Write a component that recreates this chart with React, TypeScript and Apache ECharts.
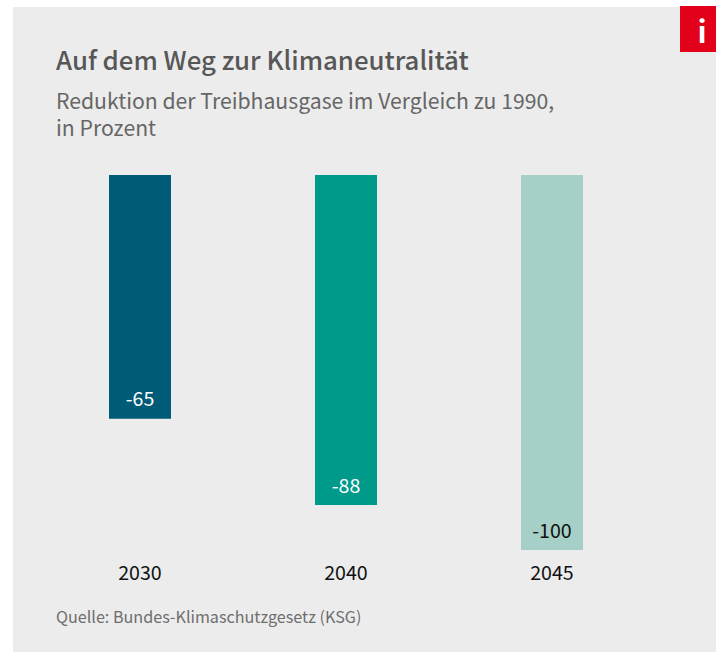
import React, { useEffect, useRef } from "react";
import * as echarts from "echarts";

const categories = ["2030", "2040", "2045"];
const values = [-65, -88, -100];
const barColors = ["#005b76", "#009a8a", "#a6d0c7"];
const labelColors = ["#ffffff", "#ffffff", "#111111"];
const FONT = '"Noto Sans CJK SC", "Noto Sans", sans-serif';

export default function App() {
  const ref = useRef<HTMLDivElement>(null);
  useEffect(() => {
    document.body.style.margin = "0";
    const chart = echarts.init(ref.current!, undefined, { renderer: "svg" });
    chart.setOption({
      animation: false,
      backgroundColor: "#ffffff",
      grid: { left: 37, right: 61, top: 175, bottom: 102 },
      xAxis: {
        type: "category",
        data: categories,
        position: "bottom",
        axisLine: { show: false, onZero: false },
        axisTick: { show: false },
        axisLabel: { color: "#111111", fontSize: 19.6, fontFamily: FONT, margin: 12 },
      },
      yAxis: { type: "value", min: -100, max: 0, interval: 20, show: false, splitLine: { show: false } },
      series: [
        {
          type: "bar",
          barWidth: 62,
          data: values.map((v, i) => ({
            value: v,
            itemStyle: { color: barColors[i] },
            label: { color: labelColors[i] },
          })),
          label: {
            show: true,
            position: "insideBottom",
            distance: 11,
            fontSize: 19.6,
            fontFamily: FONT,
            formatter: (p: any) => String(p.value),
          },
          z: 5,
        },
      ],
      graphic: [
        { type: "rect", z: -10, shape: { x: 13, y: 7, width: 703, height: 645 }, style: { fill: "#ebebeb" } },
        { type: "rect", z: -9, shape: { x: 41, y: 40, width: 607, height: 597 }, style: { fill: "#ececec" } },
        { type: "rect", z: 1, shape: { x: 680, y: 6, width: 36, height: 46 }, style: { fill: "#e2001a" } },
        { type: "text", z: 2, x: 702, y: 30, style: { text: "i", fill: "#ffffff", font: `700 30px ${FONT}`, align: "center", verticalAlign: "middle" } },
        { type: "text", z: 2, x: 56, y: 58, style: { text: "Auf dem Weg zur Klimaneutralität", fill: "#575757", font: `500 25.8px ${FONT}`, verticalAlign: "middle" } },
        { type: "text", z: 2, x: 56, y: 86, style: { text: "Reduktion der Treibhausgase im Vergleich zu 1990,\nin Prozent", fill: "#666666", font: `400 21.2px ${FONT}`, lineHeight: 27, verticalAlign: "top" } },
        { type: "text", z: 2, x: 56, y: 616, style: { text: "Quelle: Bundes-Klimaschutzgesetz (KSG)", fill: "#6e6e6e", font: `400 16.15px ${FONT}`, verticalAlign: "middle" } },
      ],
    });
    return () => chart.dispose();
  }, []);
  return <div ref={ref} style={{ width: 716, height: 652, overflow: "hidden" }} />;
}
